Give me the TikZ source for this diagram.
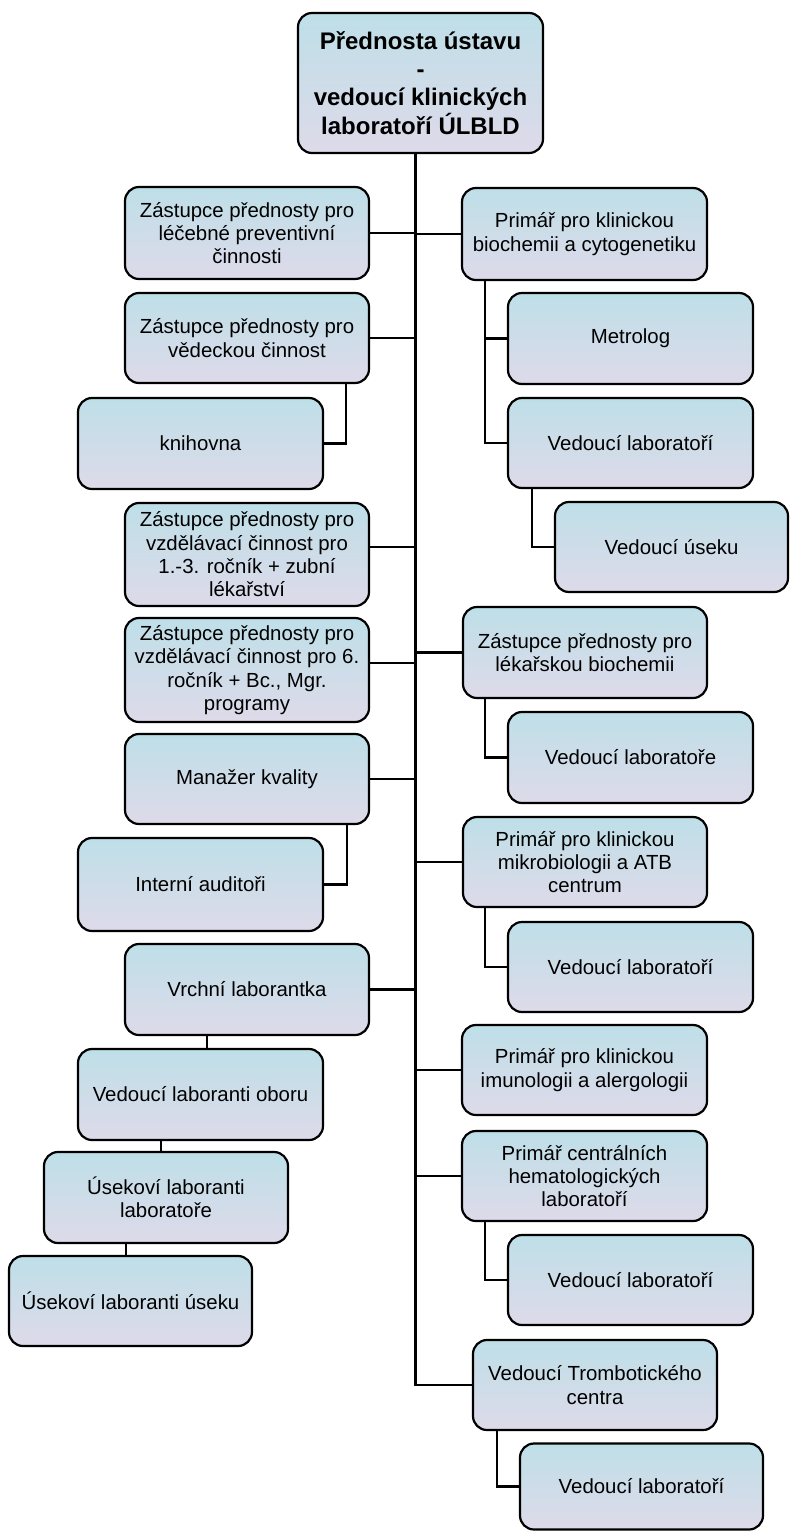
\documentclass[tikz,border=0pt]{standalone}
\usepackage{fontspec}
\setmainfont{Liberation Sans}
\definecolor{bt}{HTML}{BEDFE8}
\definecolor{bb}{HTML}{DEDAE9}
\tikzset{
  box/.style={draw=black, line width=2.2bp, rounded corners=14bp, top color=bt, bottom color=bb,
    align=center, inner sep=2bp, font=\fontsize{20.4bp}{23.3bp}\selectfont},
  sz/.style 2 args={minimum width=#1bp, minimum height=#2bp},
  conn/.style={draw=black, line width=2.2bp}
}
\begin{document}
\begin{tikzpicture}[x={(1bp,0)}, y={(0,-1bp)}]
\useasboundingbox (0,0) rectangle (790,1531);
% top
\node[box, sz={245}{140}, font=\fontsize{24bp}{28.3bp}\selectfont\bfseries] (top) at (420.5,83)
  {Přednosta ústavu\\-\\vedoucí klinických\\laboratoří ÚLBLD};
% left column
\node[box, sz={244}{92}] (L1) at (247,233) {Zástupce přednosty pro\\léčebné preventivní\\činnosti};
\node[box, sz={244}{90}] (L2) at (247,338) {Zástupce přednosty pro\\vědeckou činnost};
\node[box, sz={245}{91}] (knih) at (200.5,443.5) {knihovna};
\node[box, sz={244}{103}] (L3) at (247,554.5) {Zástupce přednosty pro\\vzdělávací činnost pro\\1.-3. ročník + zubní\\lékařství};
\node[box, sz={244}{104}] (L4) at (247,670) {Zástupce přednosty pro\\vzdělávací činnost pro 6.\\ročník + Bc., Mgr.\\programy};
\node[box, sz={244}{90}] (MK) at (247,779) {Manažer kvality};
\node[box, sz={245}{93}] (IA) at (200.5,884.5) {Interní auditoři};
\node[box, sz={244}{91}] (VR) at (247,989.5) {Vrchní laborantka};
\node[box, sz={245}{91}] (VLO) at (200.5,1094.5) {Vedoucí laboranti oboru};
\node[box, sz={244}{91}] (ULL) at (166,1197.5) {Úsekoví laboranti\\laboratoře};
\node[box, sz={243}{90}] (ULU) at (130.5,1301) {Úsekoví laboranti úseku};
% right column
\node[box, sz={245}{92}] (R1) at (584.5,234) {Primář pro klinickou\\biochemii a cytogenetiku};
\node[box, sz={245}{91}] (MET) at (630.5,338.5) {Metrolog};
\node[box, sz={245}{90}] (VL1) at (630.5,443) {Vedoucí laboratoří};
\node[box, sz={233}{90}] (VU) at (671.5,547) {Vedoucí úseku};
\node[box, sz={244}{91}] (R2) at (585,652.5) {Zástupce přednosty pro\\lékařskou biochemii};
\node[box, sz={245}{91}] (VL2) at (630.5,757.5) {Vedoucí laboratoře};
\node[box, sz={244}{90}] (R3) at (585,862) {Primář pro klinickou\\mikrobiologii a ATB\\centrum};
\node[box, sz={245}{90}] (VL3) at (630.5,967) {Vedoucí laboratoří};
\node[box, sz={245}{90}] (R4) at (584.5,1070) {Primář pro klinickou\\imunologii a alergologii};
\node[box, sz={245}{90}] (R5) at (584.5,1176) {Primář centrálních\\hematologických\\laboratoří};
\node[box, sz={245}{90}] (VL4) at (630.5,1280) {Vedoucí laboratoří};
\node[box, sz={244}{90}] (R6) at (595,1385) {Vedoucí Trombotického\\centra};
\node[box, sz={243}{86}] (VL5) at (641.5,1486.5) {Vedoucí laboratoří};
% connectors
\coordinate (tr) at ([xshift=-5bp]top.south);
\draw[conn] (tr) |- (R6.west);
\draw[conn] (L1.east) -- (L1.east -| tr);
\draw[conn] (L2.east) -- (L2.east -| tr);
\draw[conn] ([yshift=7.5bp]L3.east) -- ([yshift=7.5bp]L3.east -| tr);
\draw[conn] ([yshift=7bp]L4.east) -- ([yshift=7bp]L4.east -| tr);
\draw[conn] (MK.east) -- (MK.east -| tr);
\draw[conn] (VR.east) -- (VR.east -| tr);
\draw[conn] (R1.west) -- (R1.west -| tr);
\draw[conn] (R2.west) -- (R2.west -| tr);
\draw[conn] (R3.west) -- (R3.west -| tr);
\draw[conn] (R4.west) -- (R4.west -| tr);
\draw[conn] (R5.west) -- (R5.west -| tr);
% sub-connectors left
\draw[conn] ([xshift=99bp]L2.south) |- (knih.east);
\draw[conn] ([xshift=100bp]MK.south) |- (IA.east);
\draw[conn] ([xshift=-40bp]VR.south) -- ([xshift=-40bp]VR.south |- VLO.north);
\draw[conn] ([xshift=-5bp]ULL.north) -- ([xshift=-5bp]ULL.north |- VLO.south);
\draw[conn] ([xshift=-4.5bp]ULU.north) -- ([xshift=-4.5bp]ULU.north |- ULL.south);
% sub-connectors right
\draw[conn] ([xshift=-99.5bp]R1.south) |- (VL1.west);
\draw[conn] ([xshift=-99.5bp]R1.south |- MET.west) -- (MET.west);
\draw[conn] ([xshift=-98.5bp]VL1.south) |- (VU.west);
\draw[conn] ([xshift=-100bp]R2.south) |- (VL2.west);
\draw[conn] ([xshift=-100bp]R3.south) |- (VL3.west);
\draw[conn] ([xshift=-99.5bp]R5.south) |- (VL4.west);
\draw[conn] ([xshift=-98bp]R6.south) |- (VL5.west);
\end{tikzpicture}
\end{document}
